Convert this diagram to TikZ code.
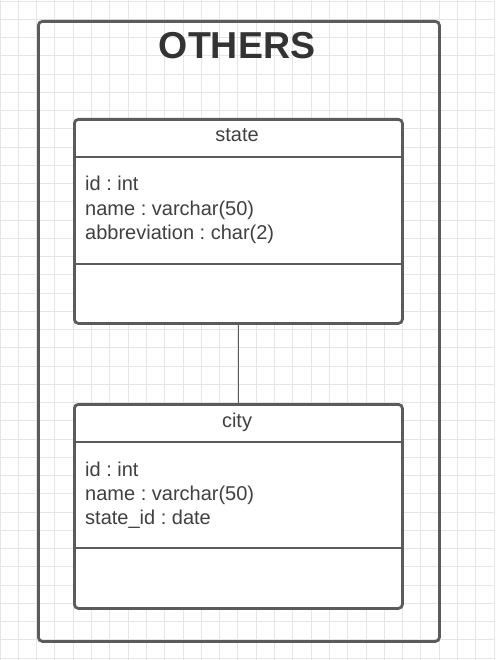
\documentclass[tikz,border=0pt]{standalone}
\usepackage{fontspec}
\setmainfont{Liberation Sans}
\frenchspacing
\definecolor{linec}{HTML}{5B5B5B}
\definecolor{textc}{HTML}{404040}
\definecolor{titlec}{HTML}{333333}
\definecolor{gridc}{HTML}{E5E5E5}
\begin{document}
\begin{tikzpicture}[x=1pt,y=-1pt,
  gridline/.style={draw=gridc, line width=0.9pt},
  border/.style={draw=linec, line width=2.8pt},
  frame/.style={border, rounded corners=4pt, minimum width=401pt, minimum height=620pt, inner sep=0pt, anchor=north west},
  classbox/.style={border, fill=white, rounded corners=4pt, minimum width=328pt, minimum height=204pt, inner sep=0pt, anchor=north west},
  divider/.style={draw=linec, line width=2.8pt},
  conn/.style={draw=linec, line width=1.6pt},
  titletext/.style={font=\fontsize{37.5}{40}\selectfont\bfseries, text=titlec, anchor=base, inner sep=0pt},
  hdr/.style={font=\fontsize{20}{24}\selectfont, text=textc, anchor=base, inner sep=0pt},
  attr/.style={font=\fontsize{20}{24}\selectfont, text=textc, anchor=base west, inner sep=0pt},
]
\useasboundingbox (0,0) rectangle (495,660);
\fill[white] (0,0) rectangle (495,660);
% grid
\foreach \i in {0,...,27} \draw[gridline] (18.3*\i,0) -- (18.3*\i,660);
\foreach \j in {0,...,36} \draw[gridline] (0,1+18.25*\j) -- (495,1+18.25*\j);
% outer frame
\node[frame] (frame) at (37,20) {};
\node[titletext] (title) at (237,59) {OTHERS};
% state class
\node[classbox] (state) at (73,118) {};
\draw[divider] ([yshift=-39pt]state.north west) -- ([yshift=-39pt]state.north east);
\draw[divider] ([yshift=-146pt]state.north west) -- ([yshift=-146pt]state.north east);
\node[hdr] (statehdr) at (237,141.5) {state};
\node[attr] (sa1) at (85,191) {id : int};
\node[attr] (sa2) at (85,215) {name : varchar(50)};
\node[attr] (sa3) at (85,239) {abbreviation : char(2)};
% city class
\node[classbox] (city) at (73,403) {};
\draw[divider] ([yshift=-39pt]city.north west) -- ([yshift=-39pt]city.north east);
\draw[divider] ([yshift=-145pt]city.north west) -- ([yshift=-145pt]city.north east);
\node[hdr] (cityhdr) at (237,427) {city};
\node[attr] (ca1) at (85,476) {id : int};
\node[attr] (ca2) at (85,500) {name : varchar(50)};
\node[attr] (ca3) at (85,524) {state\_id : date};
% connector
\draw[conn] (state.south) -- (city.north);
\end{tikzpicture}
\end{document}
